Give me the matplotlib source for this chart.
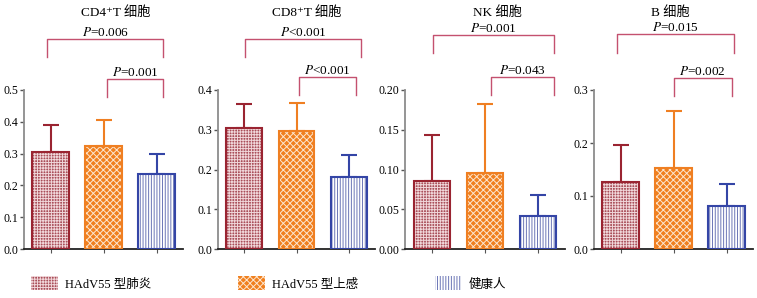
import numpy as np
import matplotlib
matplotlib.use("Agg")
import matplotlib.pyplot as plt
import matplotlib.transforms as mtransforms
from matplotlib.patches import Patch

fam = ['Liberation Serif', 'Noto Sans CJK SC', 'DejaVu Serif']
plt.rcParams['font.family'] = fam
plt.rcParams['mathtext.fontset'] = 'stix'
plt.rcParams['hatch.linewidth'] = 0.7

# data
groups = ['HAdV55 型肺炎', 'HAdV55 型上感', '健康人']
titles = ['CD4⁺T 细胞', 'CD8⁺T 细胞', 'NK 细胞', 'B 细胞']
means = [[0.305, 0.325, 0.237],
         [0.305, 0.297, 0.182],
         [0.085, 0.095, 0.041],
         [0.127, 0.153, 0.082]]
sds = [[0.085, 0.080, 0.061],
       [0.060, 0.071, 0.055],
       [0.058, 0.088, 0.027],
       [0.070, 0.107, 0.041]]
y_max = [0.5, 0.4, 0.20, 0.3]
y_step = [0.1, 0.1, 0.05, 0.1]
y_fmt = ['%.1f', '%.1f', '%.2f', '%.1f']
p_all = ['$P$=0.006', '$P$<0.001', '$P$=0.001', '$P$=0.015']
p_sub = ['$P$=0.001', '$P$<0.001', '$P$=0.043', '$P$=0.002']

# styles / layout
face = ['#aa4f5a', '#f0801f', 'white']
hatch_col = ['#f0d6d9', '#fde6cf', '#6c76b6']
hatches = ['++++++', 'xxxxx', '||||||']
edge = ['#9a2431', '#ef7f22', '#3445a6']
br_col = '#c4516f'

W, H = 757, 298
ax_left = [24, 218, 405, 594]
ax_width = [159, 157, 160, 159]
ax_bottom, ax_height = 49, 159
# bracket: (x0, x1, ytop, ybot) for big and small, x in data, y in axes fraction
br_big = [(-0.06, 2.13, 1.32, 1.21), (0.02, 2.23, 1.32, 1.21),
          (0.02, 2.29, 1.346, 1.233), (-0.06, 2.15, 1.352, 1.233)]
br_small = [(1.06, 2.13, 1.07, 0.956), (1.04, 2.13, 1.082, 0.969),
            (1.12, 2.29, 1.082, 0.969), (1.0, 2.1, 1.075, 0.962)]
title_x = [1.23, 1.19, 1.23, 0.94]

fig = plt.figure(figsize=(W / 100, H / 100), dpi=100)
fig.set_facecolor('white')

x = np.arange(3)
for k in range(4):
    ax = fig.add_axes([ax_left[k] / W, ax_bottom / H, ax_width[k] / W, ax_height / H])
    for i in range(3):
        ax.errorbar(x[i], means[k][i], yerr=[[0], [sds[k][i]]], color=edge[i],
                    capsize=5.5, elinewidth=1.5, capthick=1.5, zorder=1)
        ax.bar(x[i], means[k][i], width=0.68, color=face[i], hatch=hatches[i],
               edgecolor=hatch_col[i], linewidth=0, zorder=2)
        ax.bar(x[i], means[k][i], width=0.68, fill=False, edgecolor=edge[i],
               linewidth=1.5, zorder=3)
    ax.set_xlim(-0.5, 2.5)
    ax.set_ylim(0, y_max[k])
    ax.set_xticks(x)
    ax.set_xticklabels([])
    yt = np.arange(0, y_max[k] + 1e-9, y_step[k])
    ax.set_yticks(yt)
    ax.set_yticklabels([y_fmt[k] % v for v in yt], fontsize=8.5)
    ax.spines['top'].set_visible(False)
    ax.spines['right'].set_visible(False)
    ax.spines['left'].set_color('#8c8c8c')
    ax.spines['left'].set_linewidth(1.3)
    ax.spines['bottom'].set_color('#222222')
    ax.spines['bottom'].set_linewidth(1.3)
    ax.tick_params(axis='y', length=3, width=1, color='#555555', pad=1)
    ax.tick_params(axis='x', length=3, width=0.8, color='#555555')

    tr = mtransforms.blended_transform_factory(ax.transData, ax.transAxes)
    for (x0, x1, yt_, yb_), lab in [(br_big[k], p_all[k]), (br_small[k], p_sub[k])]:
        ax.plot([x0, x0, x1, x1], [yb_, yt_, yt_, yb_], color=br_col, lw=1.0,
                transform=tr, clip_on=False)
        ax.text((x0 + x1) / 2, yt_ + 0.002, lab, transform=tr, ha='center',
                va='bottom', fontsize=9.5)
    ax.text(title_x[k], 1.485, titles[k], transform=tr, ha='center', va='center',
            fontsize=9.5)

# legend entries
leg_x = [31, 238, 435]
for i in range(3):
    h = Patch(facecolor=face[i], edgecolor=hatch_col[i], hatch=hatches[i], linewidth=0)
    fig.legend([h], [groups[i]], loc='center left',
               bbox_to_anchor=(leg_x[i] / W, 14.5 / H), frameon=False,
               fontsize=9, borderpad=0, borderaxespad=0,
               handlelength=2.15, handleheight=1.35, handletextpad=0.55)

fig.savefig('out.png', dpi=100, facecolor='white')
